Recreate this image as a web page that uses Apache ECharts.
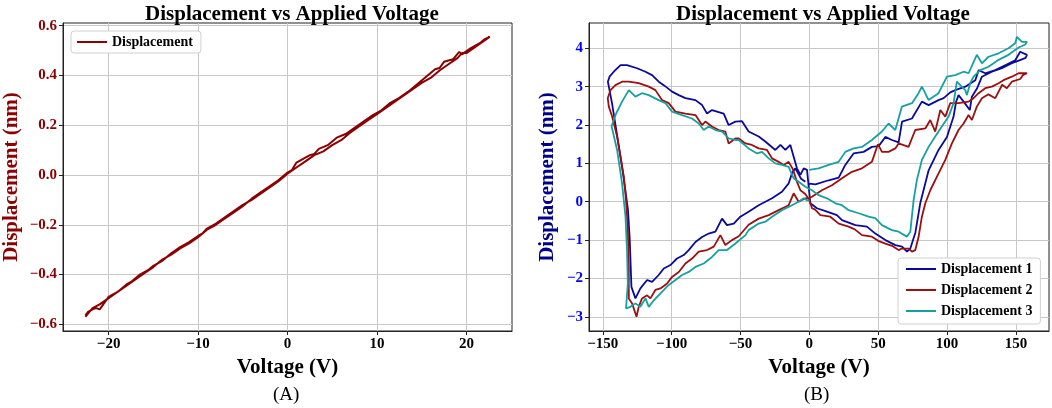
<!DOCTYPE html>
<html>
<head>
<meta charset="utf-8">
<script src="https://cdn.jsdelivr.net/npm/echarts@6/dist/echarts.min.js"></script>
<style>
  html, body { margin: 0; padding: 0; background: #fff; }
  #chart { width: 1052px; height: 408px; }
</style>
</head>
<body>
<div id="chart"></div>
<script>
// panel A: one sweep up then back down
const voltA = [
	-22.6, -22.3, -21.8, -21.4, -21.0, -20.5, -20.0, -19.5, -19.0, -18.5, -18.0, -17.5, -17.0, -16.5, -16.0, -15.5, -15.0,
	-14.0, -13.0, -12.0, -11.0, -10.0, -9.5, -9.0, -8.0, -7.0, -6.0, -5.0, -4.0, -3.0, -2.0, -1.0, 0.0,
	1.0, 2.0, 3.0, 4.0, 5.0, 6.0, 7.0, 8.0, 9.0, 10.0, 11.0, 12.0, 13.0, 14.0, 15.0, 16.0, 17.0, 18.0, 19.0, 19.5, 20.0, 21.0, 22.0, 22.6,
	22.0, 21.5, 20.5, 19.5, 19.2, 18.5, 17.5, 17.0, 16.5, 15.5, 14.5, 13.5, 12.5, 11.5, 10.5, 10.0, 9.5, 8.5, 7.5, 6.5, 5.5, 5.0, 4.5,
	3.5, 3.0, 2.5, 1.5, 1.0, 0.5, 0.0, -1.0, -2.0, -3.0, -4.0, -5.0, -6.0, -7.0, -8.0, -9.0, -10.0, -11.0, -12.0, -13.0, -14.0,
	-15.0, -16.0, -17.0, -18.0, -19.0, -20.0, -21.0, -21.8, -22.6
];
const dispA = [
	-0.565, -0.55, -0.54, -0.535, -0.54, -0.515, -0.49, -0.48, -0.47, -0.455, -0.44, -0.43, -0.415, -0.40, -0.39, -0.38, -0.365,
	-0.345, -0.315, -0.29, -0.27, -0.245, -0.235, -0.215, -0.195, -0.17, -0.145, -0.12, -0.10, -0.075, -0.05, -0.025, 0.005,
	0.03, 0.055, 0.08, 0.095, 0.12, 0.14, 0.17, 0.195, 0.22, 0.245, 0.27, 0.295, 0.32, 0.345, 0.37, 0.39, 0.42, 0.445, 0.47, 0.49, 0.49, 0.515, 0.54, 0.555,
	0.545, 0.53, 0.51, 0.485, 0.495, 0.465, 0.455, 0.43, 0.425, 0.395, 0.365, 0.335, 0.31, 0.29, 0.26, 0.25, 0.24, 0.215, 0.19, 0.165, 0.15, 0.135, 0.12,
	0.105, 0.085, 0.08, 0.06, 0.05, 0.02, 0.01, -0.02, -0.045, -0.07, -0.095, -0.125, -0.15, -0.175, -0.2, -0.22, -0.25, -0.275, -0.295, -0.32, -0.34,
	-0.37, -0.395, -0.42, -0.445, -0.47, -0.495, -0.52, -0.535, -0.57
];

// panel B: three butterfly loops (0 -> +158 -> -146 -> 0)
const volt1 = [
	0, 4.4, 14.0, 21.3, 26.1, 32.1, 39.4, 45.4, 50.3, 55.2, 59.9, 64.8, 67.3, 74.5, 81.7, 86.6, 93.8, 97.5, 102.3, 105.9, 113.2, 120.5, 122.9, 127.7, 135, 142.2, 149.5, 153.1, 158,
	157, 152, 147, 139.8, 132.5, 125.3, 121.7, 118, 116.5, 112, 108.3, 106.5, 104.7, 99.9, 93.8, 86.6, 80.5, 77, 73.3, 70.9,
	67.3, 62.4, 55.2, 47.9, 41.8, 33.4, 23.7, 20.0, 12.8, 5.5, 0.7, -1.7, -4.1, -6.5, -9.0, -11.4, -13.8, -17.4, -21.0, -24.7, -32, -36.8, -44.1, -48.9, -53.7, -58.6,
	-62.2, -70.7, -74.3, -77.9, -82.7, -90, -94.8, -99.7, -105.7, -109.4, -114.2, -119, -125.1, -132.4, -137.1, -142, -145.1, -146.3,
	-143.3, -139.8, -136, -133.6, -131.7, -130.5, -129.7, -129.2, -126.3, -122.7, -117.8, -114.2, -109.4, -105.7, -100.9, -96.1, -91.2, -87.6, -82.7, -77.9,
	-73.1, -68.2, -63.4, -59.8, -54.9, -50.1, -44.1, -36.8, -27.1, -19.9, -15.0, -12.6, -10.2, -6, -2.9
];
const disp1 = [
	0.47, 0.45, 0.56, 0.63, 0.96, 1.26, 1.30, 1.43, 1.45, 1.69, 1.61, 1.55, 2.09, 2.17, 2.61, 2.52, 2.65, 2.70, 2.85, 2.91, 3.0, 3.17, 3.43, 3.35, 3.43, 3.56, 3.69, 3.91, 3.83,
	3.75, 3.68, 3.61, 3.48, 3.39, 3.26, 2.95, 2.74, 2.39, 2.61, 2.78, 2.6, 2.22, 1.69, 1.35, 0.82, -0.04, -0.8, -1.22, -1.30,
	-1.17, -1.13, -1.0, -0.83, -0.65, -0.61, -0.48, -0.35, -0.26, -0.17, -0.04, 0.83, 0.87, 0.70, 0.87, 1.17, 1.48, 1.35, 1.48, 1.35, 1.57, 1.70, 1.83, 2.10, 2.09, 2.0,
	2.30, 2.39, 2.30, 2.52, 2.65, 2.70, 2.78, 2.87, 3.04, 3.13, 3.30, 3.39, 3.48, 3.56, 3.56, 3.39, 3.26, 3.13,
	2.57, 1.78, 0.91, 0.30, -0.22, -0.92, -1.70, -2.22, -2.52, -2.26, -2.04, -2.09, -1.91, -1.74, -1.65, -1.48, -1.39, -1.26, -1.05, -0.92,
	-0.83, -0.78, -0.44, -0.61, -0.57, -0.39, -0.26, -0.09, 0.09, 0.26, 0.48, 0.74, 0.87, 0.6, 0.52
];
const volt2 = [
	0, 1.9, 9.1, 16.4, 23.7, 30.9, 38.2, 45.4, 49.8, 52.7, 57.5, 62.4, 64.8, 72.0, 76.9, 84.2, 87.8, 91.4, 95.1, 98.7, 102.3, 108.3, 115.6, 119.2, 122.9, 127.7, 132.5, 137.4, 141, 147, 151.9, 158,
	155, 153.1, 147, 143.4, 140, 135, 130, 125.3, 121.6, 118, 115.6, 112, 108.3, 103.5, 98.7, 93.8, 87.8, 84.2, 81.7, 79.3, 76.9, 74.5, 72, 67.2,
	64.8, 60, 55.2, 50, 45.4, 38.2, 33, 28.5, 21.3, 15.2, 8.0, 4, 1.9, 0, -3, -6.5, -9.0, -12, -15.0, -18.6, -22.3, -27.1, -30.8, -36.8, -41.7, -46.4, -51.3,
	-53.7, -58.6, -61.0, -65.8, -70.7, -75.5, -77.9, -82.7, -90.0, -97.2, -102.1, -107, -111.8, -116.6, -123.9, -131.1, -136, -140.8, -144.4, -146.4,
	-145.6, -143.2, -139.6, -137.1, -134.7, -133.1, -131.8, -131.1, -131.1, -128.7, -125.5, -123.9, -121.5, -117.8, -115.4, -111.8, -108.1, -103.3, -99.7, -94.8,
	-90, -85.2, -80.3, -74.3, -69.4, -64.6, -61.0, -56.2, -51.3, -44.1, -36.8, -29.5, -22.3, -15.0, -11.4, -7.8, -2.9, 0
];
const disp2 = [
	0.1, 0.13, 0.30, 0.43, 0.61, 0.78, 0.87, 1.04, 1.5, 1.3, 1.30, 1.39, 1.52, 1.43, 1.87, 1.91, 2.13, 1.83, 2.39, 2.22, 2.57, 2.57, 2.61, 2.70, 2.83, 2.96, 3.0, 3.09, 3.17, 3.26, 3.35, 3.35,
	3.3, 3.2, 3.13, 2.96, 3.05, 2.70, 2.8, 2.70, 2.48, 2.13, 2.26, 2.04, 1.87, 1.52, 1.09, 0.74, 0.30, -0.04, -0.39, -0.92, -1.26, -1.30, -1.22, -1.22,
	-1.26, -1.15, -1.09, -1.02, -0.91, -0.87, -0.72, -0.65, -0.57, -0.39, -0.35, -0.2, -0.17, 0.05, 0.2, 0.30, 0.52, 0.85, 1.04, 0.96, 1.04, 1.13, 1.35, 1.39, 1.48, 1.52, 1.65,
	1.65, 1.52, 1.83, 1.87, 1.96, 2.09, 2.0, 2.26, 2.30, 2.35, 2.57, 2.65, 2.91, 3.0, 3.09, 3.13, 3.13, 3.04, 2.91, 2.70,
	2.48, 2.22, 1.70, 1.17, 0.65, 0.04, -0.74, -1.70, -2.52, -2.65, -3.0, -2.74, -2.52, -2.44, -2.52, -2.30, -2.26, -2.13, -1.96, -1.83,
	-1.61, -1.48, -1.30, -1.26, -1.17, -0.87, -1.13, -1.0, -0.9, -0.6, -0.44, -0.35, -0.22, -0.09, 0.22, 0.0, 0.09, 0.1
];
const volt3 = [
	0, 6.7, 14.0, 21.3, 26.1, 32.1, 38.2, 45.4, 52.7, 57.5, 62.4, 67.2, 74.5, 79.3, 81.7, 86.6, 93.8, 99.9, 105.9, 112, 115.6, 121.6, 125.3, 130.1, 137.4, 144.6, 149.5, 150.7, 154.4, 158,
	156.8, 152, 150.7, 144.6, 137.4, 130.1, 124.1, 119.2, 116.8, 114.4, 113.2, 109.6, 107.1, 104.7, 101.1, 96.2, 91.4, 86.6, 81.7, 78.1, 75.7, 73.3, 70.8,
	64.8, 59.9, 52.7, 47.9, 43.0, 35.8, 28.5, 23.7, 18.9, 12.8, 6.7, 1.9, -2.9, -7.8, -11.4, -15.0, -19.9, -24.7, -29.5, -34.4, -38, -44.1, -51.3,
	-53.7, -58.6, -63.4, -68.2, -73.1, -76.7, -80.3, -85.2, -92.5, -99.7, -104.5, -109.4, -116.6, -121.5, -126.3, -131.1, -136, -140.3, -143.6,
	-139.6, -136, -133.5, -132.4, -131.8, -133.1, -129.9, -126.3, -122.7, -119, -116.6, -112.9, -108.1, -102.1, -97.2, -92.4, -87.6, -82.7, -76.7, -70.7,
	-65.8, -59.8, -53.7, -46.4, -44.1, -36.8, -31.9, -27.1, -19.9, -12.6, -7.8, -4.1, -1.7, 0
];
const disp3 = [
	0.83, 0.87, 0.96, 1.04, 1.30, 1.39, 1.43, 1.61, 1.83, 2.04, 1.87, 2.48, 2.57, 2.83, 3.0, 2.65, 2.83, 3.26, 3.30, 3.39, 3.35, 3.83, 3.61, 3.78, 3.87, 4.0, 4.13, 4.30, 4.17, 4.17,
	4.1, 4.02, 4.0, 3.83, 3.70, 3.52, 3.43, 3.26, 3.09, 2.78, 2.91, 3.04, 3.13, 2.57, 2.22, 1.96, 1.70, 1.43, 1.09, 0.57, 0.04, -0.78, -0.91,
	-0.78, -0.74, -0.61, -0.43, -0.39, -0.30, -0.22, -0.09, -0.04, 0.09, 0.17, 0.30, 0.39, 0.52, 0.61, 0.91, 0.96, 1.0, 1.13, 1.30, 1.26, 1.39, 1.61,
	1.61, 1.65, 1.83, 1.87, 1.96, 1.87, 2.04, 2.17, 2.26, 2.35, 2.57, 2.65, 2.78, 2.83, 2.74, 2.91, 2.61, 2.30, 1.97,
	1.35, 0.48, -0.39, -1.26, -2.13, -2.78, -2.74, -2.65, -2.74, -2.52, -2.74, -2.57, -2.39, -2.17, -2.04, -1.91, -1.83, -1.70, -1.61, -1.44,
	-1.26, -1.26, -1.09, -0.87, -0.74, -0.57, -0.52, -0.39, -0.22, -0.09, 0.0, 0.09, 0.04, 0.02
];

const ticksXA = [-20, -10, 0, 10, 20];
const ticksYA = [-0.6, -0.4, -0.2, 0.0, 0.2, 0.4, 0.6];
const ticksXB = [-150, -100, -50, 0, 50, 100, 150];
const ticksYB = [-3, -2, -1, 0, 1, 2, 3, 4];

const seriesNames = ['Displacement 1', 'Displacement 2', 'Displacement 3'];
const colors = ['#0a0a9a', '#9b1010', '#17a0a0'];

const serif = '"Liberation Serif", "DejaVu Serif", serif';
const minus = v => ( v < 0 ? '\u2212' : '' ) + Math.abs( v );
const pair = ( xs, ys ) => xs.map( ( x, i ) => [ x, ys[i] ] );

function axis( opts ) {
	return {
		type: 'value',
		gridIndex: opts.grid,
		min: opts.min,
		max: opts.max,
		name: opts.name,
		nameLocation: 'middle',
		nameGap: opts.nameGap,
		nameTextStyle: { fontFamily: serif, fontWeight: 'bold', fontSize: 21, color: opts.nameColor || '#000' },
		axisLine: { show: true, onZero: false, lineStyle: { color: '#222', width: 1 } },
		axisTick: { show: true, inside: false, length: 4, lineStyle: { color: '#222' }, customValues: opts.ticks },
		axisLabel: {
			customValues: opts.ticks,
			fontFamily: serif, fontWeight: 'bold', fontSize: 15, color: opts.labelColor || '#000',
			margin: 6,
			formatter: opts.fmt
		},
		splitLine: { show: true, lineStyle: { color: '#c8c8c8', width: 1 } }
	};
}

const chart = echarts.init( document.getElementById( 'chart' ), null, { renderer: 'canvas' } );

chart.setOption( {
	backgroundColor: '#fff',
	animation: false,
	title: [
		{ text: 'Displacement vs Applied Voltage', left: 287, top: -1, textAlign: 'center',
			textStyle: { fontFamily: serif, fontWeight: 'bold', fontSize: 21, color: '#000' } },
		{ text: 'Displacement vs Applied Voltage', left: 818, top: -1, textAlign: 'center',
			textStyle: { fontFamily: serif, fontWeight: 'bold', fontSize: 21, color: '#000' } }
	],
	grid: [
		{ left: 63, top: 23, width: 449, height: 308, show: true, borderColor: '#222', borderWidth: 1 },
		{ left: 589, top: 23, width: 460, height: 308, show: true, borderColor: '#222', borderWidth: 1 }
	],
	legend: [
		{
			data: [ 'Displacement' ], left: 71, top: 31, orient: 'vertical',
			icon: 'rect', itemWidth: 30, itemHeight: 2, itemGap: 6,
			padding: [ 4, 8, 4, 6 ], borderColor: '#d0d0d0', borderWidth: 1, borderRadius: 3, backgroundColor: '#fff',
			textStyle: { fontFamily: serif, fontWeight: 'bold', fontSize: 14, color: '#000' }
		},
		{
			data: seriesNames, left: 898, top: 258, orient: 'vertical',
			icon: 'rect', itemWidth: 30, itemHeight: 2, itemGap: 7,
			padding: [ 4, 8, 6, 8 ], borderColor: '#d0d0d0', borderWidth: 1, borderRadius: 3, backgroundColor: '#fff',
			textStyle: { fontFamily: serif, fontWeight: 'bold', fontSize: 14, color: '#000' }
		}
	],
	xAxis: [
		axis( { grid: 0, min: -25.1, max: 25.1, ticks: ticksXA, name: 'Voltage (V)', nameGap: 23, fmt: minus } ),
		axis( { grid: 1, min: -160, max: 174, ticks: ticksXB, name: 'Voltage (V)', nameGap: 23, fmt: minus } )
	],
	yAxis: [
		axis( { grid: 0, min: -0.627, max: 0.611, ticks: ticksYA, name: 'Displacement (nm)', nameGap: 41,
			nameColor: '#8b0000', labelColor: '#8b0000',
			fmt: v => ( v < -1e-9 ? '\u2212' : '' ) + Math.abs( v ).toFixed( 1 ) } ),
		axis( { grid: 1, min: -3.37, max: 4.66, ticks: ticksYB, name: 'Displacement (nm)', nameGap: 31,
			nameColor: '#00008b', labelColor: '#0000ff', fmt: minus } )
	],
	series: [
		{ name: 'Displacement', type: 'line', xAxisIndex: 0, yAxisIndex: 0, showSymbol: false,
			data: pair( voltA, dispA ), lineStyle: { color: '#8b0000', width: 2 }, itemStyle: { color: '#8b0000' } },
		{ name: seriesNames[0], type: 'line', xAxisIndex: 1, yAxisIndex: 1, showSymbol: false,
			data: pair( volt1, disp1 ), lineStyle: { color: colors[0], width: 1.8 }, itemStyle: { color: colors[0] } },
		{ name: seriesNames[1], type: 'line', xAxisIndex: 1, yAxisIndex: 1, showSymbol: false,
			data: pair( volt2, disp2 ), lineStyle: { color: colors[1], width: 1.8 }, itemStyle: { color: colors[1] } },
		{ name: seriesNames[2], type: 'line', xAxisIndex: 1, yAxisIndex: 1, showSymbol: false,
			data: pair( volt3, disp3 ), lineStyle: { color: colors[2], width: 1.8 }, itemStyle: { color: colors[2] } }
	],
	graphic: [
		{ type: 'text', left: 287 - 14, top: 386, style: { text: '(A)', font: '19px ' + serif, fill: '#000' } },
		{ type: 'text', left: 818 - 14, top: 386, style: { text: '(B)', font: '19px ' + serif, fill: '#000' } }
	]
} );
</script>
</body>
</html>
